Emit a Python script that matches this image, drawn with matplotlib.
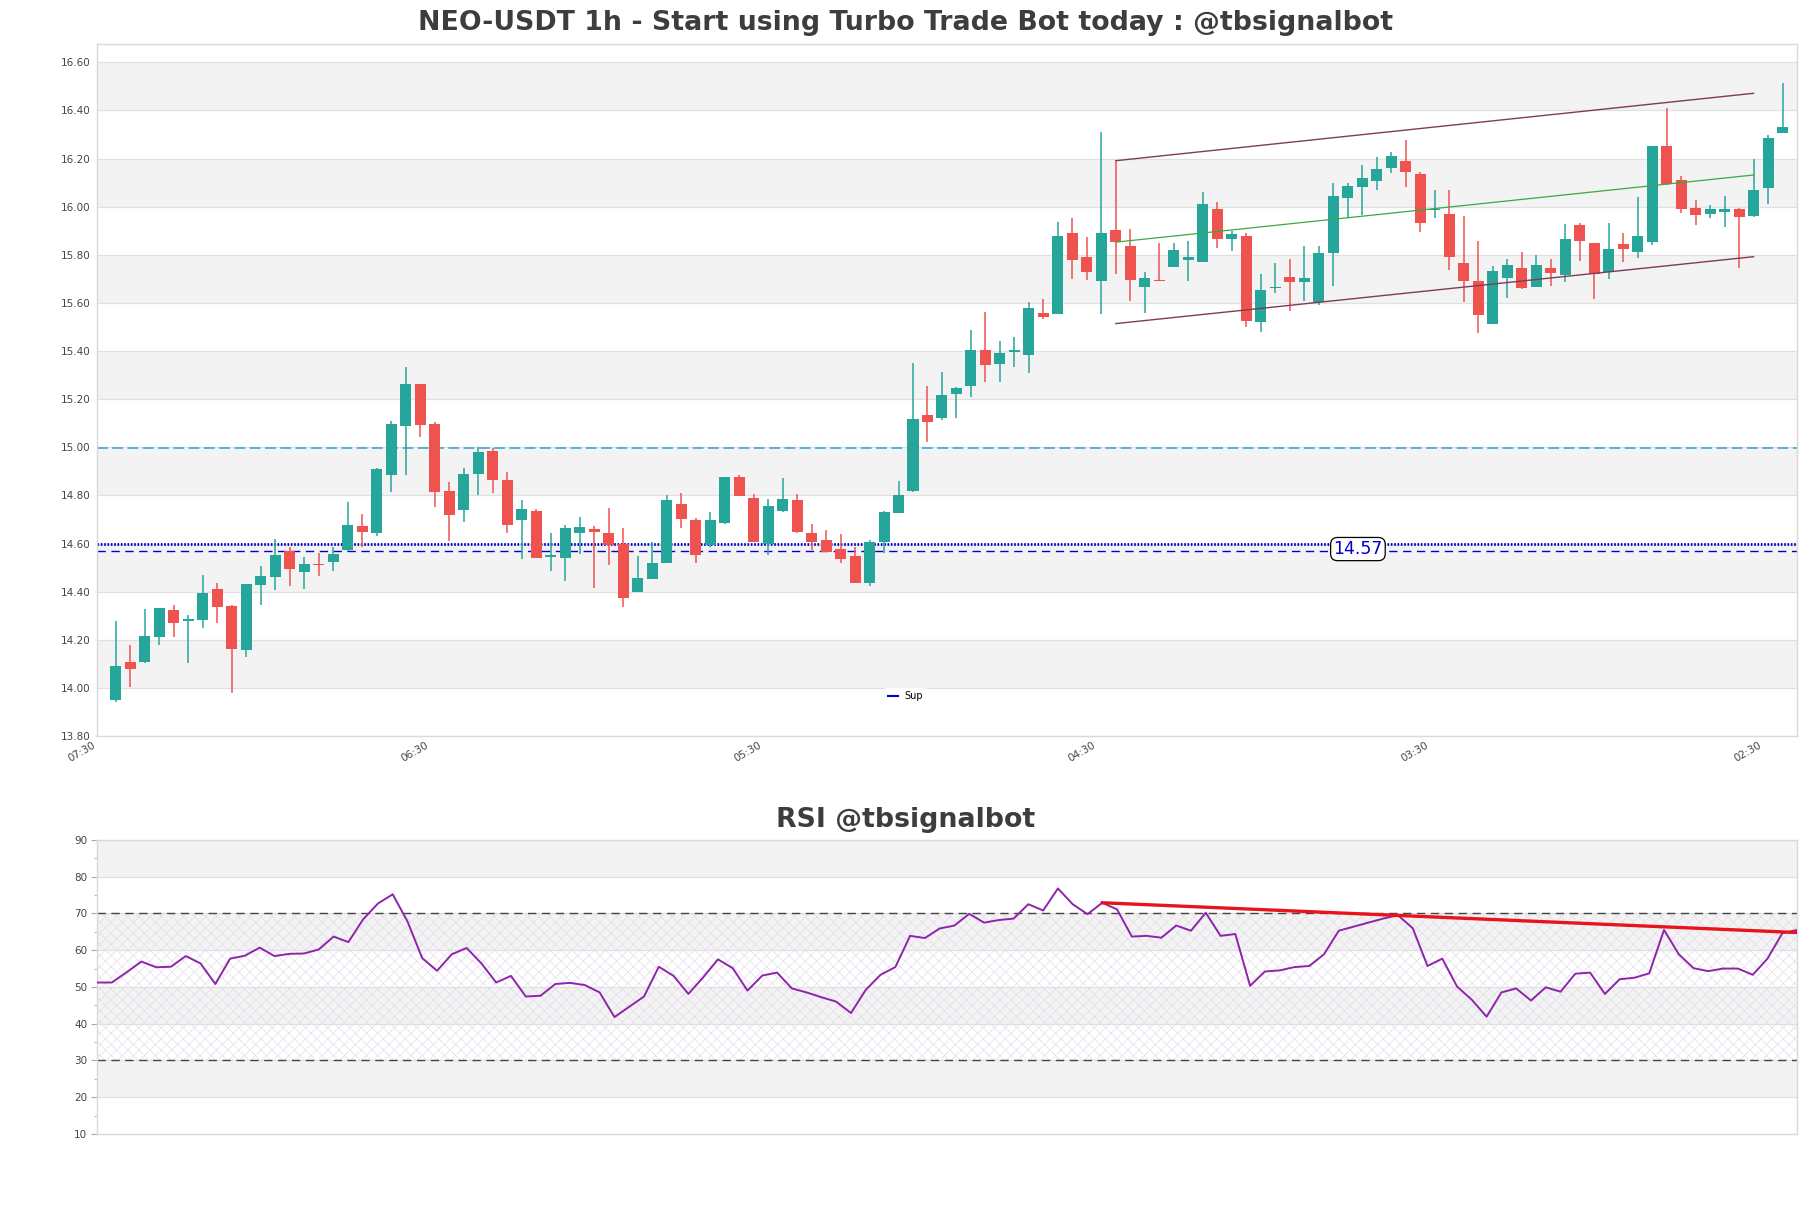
import matplotlib
matplotlib.use('Agg')
import matplotlib.pyplot as plt
import numpy as np
from matplotlib.ticker import MultipleLocator

plt.rcParams['hatch.linewidth'] = 0.45

# ---------------- data ----------------
opens = [13.950, 14.106, 14.109, 14.211, 14.322, 14.278, 14.282, 14.413, 14.340, 14.156,
         14.427, 14.460, 14.568, 14.481, 14.513, 14.522, 14.572, 14.674, 14.642, 14.883,
         15.090, 15.263, 15.097, 14.819, 14.738, 14.887, 14.985, 14.865, 14.696, 14.736,
         14.543, 14.539, 14.642, 14.662, 14.645, 14.600, 14.398, 14.452, 14.518, 14.765,
         14.699, 14.593, 14.684, 14.877, 14.790, 14.597, 14.734, 14.782, 14.645, 14.616,
         14.579, 14.550, 14.435, 14.607, 14.727, 14.819, 15.134, 15.123, 15.220, 15.253,
         15.404, 15.347, 15.398, 15.384, 15.560, 15.554, 15.891, 15.789, 15.691, 15.901,
         15.835, 15.666, 15.692, 15.749, 15.778, 15.772, 15.992, 15.865, 15.880, 15.521,
         15.661, 15.709, 15.687, 15.603, 15.807, 16.035, 16.080, 16.105, 16.159, 16.191,
         16.137, 15.985, 15.971, 15.764, 15.691, 15.511, 15.702, 15.747, 15.665, 15.743,
         15.714, 15.922, 15.847, 15.728, 15.843, 15.810, 15.855, 16.253, 16.112, 15.996,
         15.969, 15.977, 15.991, 15.960, 16.076, 16.304]
highs = [14.280, 14.177, 14.326, 14.334, 14.343, 14.301, 14.471, 14.434, 14.344, 14.430,
         14.508, 14.618, 14.586, 14.546, 14.562, 14.586, 14.771, 14.724, 14.912, 15.108,
         15.335, 15.263, 15.104, 14.855, 14.915, 15.000, 14.996, 14.897, 14.782, 14.745,
         14.645, 14.677, 14.711, 14.674, 14.749, 14.666, 14.550, 14.606, 14.803, 14.811,
         14.707, 14.732, 14.877, 14.886, 14.807, 14.786, 14.873, 14.807, 14.683, 14.658,
         14.641, 14.584, 14.616, 14.736, 14.861, 15.350, 15.254, 15.311, 15.249, 15.486,
         15.562, 15.441, 15.457, 15.603, 15.615, 15.937, 15.953, 15.872, 16.311, 16.191,
         15.905, 15.727, 15.847, 15.850, 15.859, 16.060, 16.021, 15.898, 15.891, 15.720,
         15.764, 15.781, 15.835, 15.835, 16.100, 16.098, 16.173, 16.206, 16.228, 16.278,
         16.143, 16.071, 16.071, 15.960, 15.859, 15.754, 15.781, 15.810, 15.797, 15.781,
         15.926, 15.934, 15.847, 15.934, 15.890, 16.039, 16.253, 16.411, 16.129, 16.027,
         16.007, 16.046, 15.994, 16.196, 16.297, 16.514]
lows = [13.943, 14.004, 14.105, 14.178, 14.211, 14.104, 14.247, 14.269, 13.979, 14.129,
        14.344, 14.405, 14.423, 14.409, 14.464, 14.485, 14.570, 14.586, 14.631, 14.816,
        14.883, 15.044, 14.750, 14.609, 14.688, 14.800, 14.811, 14.642, 14.537, 14.539,
        14.485, 14.443, 14.555, 14.415, 14.510, 14.337, 14.398, 14.452, 14.518, 14.663,
        14.518, 14.586, 14.680, 14.796, 14.607, 14.551, 14.729, 14.642, 14.572, 14.564,
        14.518, 14.435, 14.423, 14.561, 14.727, 14.815, 15.020, 15.112, 15.120, 15.210,
        15.272, 15.272, 15.335, 15.310, 15.535, 15.554, 15.699, 15.695, 15.554, 15.720,
        15.608, 15.558, 15.690, 15.749, 15.691, 15.770, 15.828, 15.815, 15.500, 15.477,
        15.641, 15.568, 15.608, 15.591, 15.670, 15.953, 15.964, 16.068, 16.138, 16.080,
        15.894, 15.952, 15.736, 15.602, 15.475, 15.511, 15.620, 15.656, 15.665, 15.669,
        15.685, 15.774, 15.616, 15.698, 15.770, 15.785, 15.840, 16.091, 15.975, 15.923,
        15.952, 15.915, 15.745, 15.956, 16.010, 16.304]
closes = [14.090, 14.079, 14.214, 14.330, 14.269, 14.285, 14.396, 14.336, 14.162, 14.430,
          14.467, 14.554, 14.493, 14.513, 14.510, 14.558, 14.678, 14.647, 14.910, 15.097,
          15.263, 15.094, 14.816, 14.717, 14.890, 14.981, 14.862, 14.676, 14.745, 14.539,
          14.554, 14.666, 14.670, 14.647, 14.593, 14.373, 14.455, 14.521, 14.782, 14.700,
          14.551, 14.699, 14.877, 14.796, 14.607, 14.757, 14.786, 14.647, 14.605, 14.564,
          14.535, 14.435, 14.608, 14.732, 14.803, 15.118, 15.107, 15.217, 15.245, 15.404,
          15.343, 15.391, 15.404, 15.578, 15.543, 15.880, 15.778, 15.728, 15.891, 15.853,
          15.695, 15.705, 15.690, 15.818, 15.789, 16.009, 15.865, 15.887, 15.525, 15.652,
          15.663, 15.687, 15.705, 15.808, 16.046, 16.087, 16.120, 16.158, 16.212, 16.143,
          15.931, 15.991, 15.790, 15.691, 15.549, 15.731, 15.756, 15.660, 15.756, 15.723,
          15.864, 15.859, 15.720, 15.826, 15.826, 15.876, 16.253, 16.096, 15.989, 15.964,
          15.991, 15.991, 15.956, 16.069, 16.285, 16.332]

rsi = [51.2, 51.2, 54.0, 56.9, 55.35, 55.5, 58.4, 56.4, 50.8, 57.7,
       58.5, 60.7, 58.4, 59.0, 59.1, 60.2, 63.7, 62.2, 68.4, 72.7,
       75.2, 67.8, 57.8, 54.4, 58.9, 60.6, 56.4, 51.2, 53.0, 47.4,
       47.6, 50.8, 51.1, 50.5, 48.5, 41.8, 44.6, 47.4, 55.5, 53.0,
       48.1, 52.6, 57.5, 55.1, 49.0, 53.1, 53.9, 49.6, 48.5, 47.2,
       46.0, 42.9, 49.2, 53.3, 55.4, 63.9, 63.3, 65.9, 66.7, 69.9,
       67.5, 68.2, 68.6, 72.5, 70.8, 76.8, 72.5, 69.8, 72.9, 71.1,
       63.7, 63.9, 63.4, 66.7, 65.3, 70.2, 63.9, 64.4, 50.3, 54.2,
       54.5, 55.4, 55.7, 58.9, 65.3, 66.4, 67.5, 68.6, 69.5, 66.0,
       55.7, 57.7, 50.1, 46.5, 41.9, 48.5, 49.6, 46.3, 49.9, 48.7,
       53.6, 53.9, 48.1, 52.1, 52.5, 53.7, 65.5, 58.9, 55.1, 54.3,
       55.0, 55.0, 53.3, 57.7, 64.6, 65.5]

tick_idx = [0, 23, 46, 69, 92, 115]
tick_labels = ["07:30", "06:30", "05:30", "04:30", "03:30", "02:30"]

# channel (start index, end index, upper, lower)
chan_x = [69, 113]
chan_upper = [16.191, 16.471]
chan_lower = [15.514, 15.792]

resistance = 14.995
support_dot = 14.60
support = 14.57

rsi_trend_x = [68, 115]
rsi_trend_y = [72.9, 64.8]

# ---------------- figure ----------------
GREEN = '#26a69a'
RED = '#ef5350'
BAND = '#f3f3f3'
GRID = '#e0e0e0'
SPINE = '#d9d9d9'

fig = plt.figure(figsize=(18.11, 12.08), dpi=100)
ax = fig.add_axes([0.0536, 0.3907, 0.9387, 0.5729])
ax2 = fig.add_axes([0.0536, 0.0613, 0.9387, 0.2434])

n = len(opens)
x = np.arange(n)
o = np.array(opens); h = np.array(highs); l = np.array(lows); c = np.array(closes)
up = c >= o
cols = np.where(up, GREEN, RED)

# background bands
yt = np.round(np.arange(13.8, 16.61, 0.2), 2)
for y0 in yt[1::2]:
    ax.axhspan(y0, y0 + 0.2, color=BAND, zorder=0, lw=0)
for y0 in yt:
    ax.axhline(y0, color=GRID, lw=0.9, zorder=0.5)

# candles
ax.vlines(x, l, h, colors=cols, lw=1.1, zorder=2)
bottoms = np.minimum(o, c)
heights = np.maximum(np.abs(c - o), 0.004)
ax.bar(x, heights, bottom=bottoms, width=0.76, color=cols, zorder=3, lw=0)

# horizontal levels
ax.axhline(resistance, color='#26a5d9', lw=1.1, ls=(0, (7, 3)), zorder=1.5)
ax.axhline(support_dot, color='#0000cc', lw=2.0, ls=(0, (0.6, 0.6)), zorder=1.5)
sup_line = ax.axhline(support, color='#0000cc', lw=1.0, ls=(0, (6, 4)), zorder=1.5, label='Sup')
ax.text(85.7, 14.577, f"{support:.2f}", color='#0000cc', fontsize=12.5,
        ha='center', va='center', zorder=6,
        bbox=dict(boxstyle='round,pad=0.15,rounding_size=0.4', fc='white', ec='black', lw=0.9))

# channel
ax.plot(chan_x, chan_upper, color='#7e3c55', lw=1.0, zorder=4)
ax.plot(chan_x, chan_lower, color='#7e3c55', lw=1.0, zorder=4)
ax.plot(chan_x, [(a + b) / 2 for a, b in zip(chan_upper, chan_lower)], color='#3aa845', lw=0.9, zorder=4)

ax.set_xlim(-1.0, 116.0)
ax.set_ylim(13.80, 16.676)
ax.set_yticks(yt)
ax.set_yticklabels([f"{v:.2f}" for v in yt])
ax.set_xticks([t - 1.3 for t in tick_idx])
ax.set_xticklabels(tick_labels, rotation=30, ha='right')
ax.tick_params(axis='both', length=0, labelsize=7.5, labelcolor='#444444', pad=5)
ax.tick_params(axis='x', pad=3)
for s in ax.spines.values():
    s.set_color(SPINE)
    s.set_linewidth(1.0)

leg = fig.legend(handles=[sup_line], labels=['Sup'], loc='center',
                 bbox_to_anchor=(0.5, 0.4235), fontsize=7, frameon=True,
                 handlelength=1.0, borderpad=0.4, handletextpad=0.6)
leg.get_frame().set_edgecolor('white')
leg.get_frame().set_facecolor('white')
for ln in leg.get_lines():
    ln.set_linestyle('-')
    ln.set_linewidth(1.5)
    ln.set_color('#0000cc')

fig.text(0.5, 0.981, "NEO-USDT 1h - Start using Turbo Trade Bot today : @tbsignalbot",
         ha='center', va='center', fontsize=19.3, fontweight='bold', color='#3d3d3d')
fig.text(0.5, 0.321, "RSI @tbsignalbot", ha='center', va='center',
         fontsize=19.3, fontweight='bold', color='#3d3d3d')

# ---------------- RSI panel ----------------
xr = np.arange(len(rsi))
for y0 in [20, 40, 60, 80]:
    ax2.axhspan(y0, y0 + 10, color=BAND, zorder=0, lw=0)
for y0 in range(10, 91, 10):
    ax2.axhline(y0, color=GRID, lw=0.9, zorder=0.5)
ax2.fill_between([0, len(rsi) - 1], 30, 70, facecolor='none', edgecolor='#e2dae9',
                 hatch='xxx', lw=0, zorder=0.6)
ax2.axhline(70, color='#444444', lw=1.0, ls=(0, (6, 4)), zorder=1)
ax2.axhline(30, color='#444444', lw=1.0, ls=(0, (6, 4)), zorder=1)
ax2.plot(xr, rsi, color='#8e24aa', lw=1.4, zorder=3)
ax2.plot(rsi_trend_x, rsi_trend_y, color='#e8141c', lw=2.4, zorder=4)

ax2.set_xlim(0, len(rsi) - 1)
ax2.set_ylim(10, 90)
ax2.set_yticks(range(10, 91, 10))
ax2.yaxis.set_minor_locator(MultipleLocator(5))
ax2.set_xticks([])
ax2.tick_params(axis='y', which='major', length=4, color='#aaaaaa', labelsize=7.5,
                labelcolor='#444444', pad=3)
ax2.tick_params(axis='y', which='minor', length=2.5, color='#aaaaaa')
for s in ax2.spines.values():
    s.set_color(SPINE)
    s.set_linewidth(1.0)

fig.savefig('out.png', dpi=100, facecolor='white')
